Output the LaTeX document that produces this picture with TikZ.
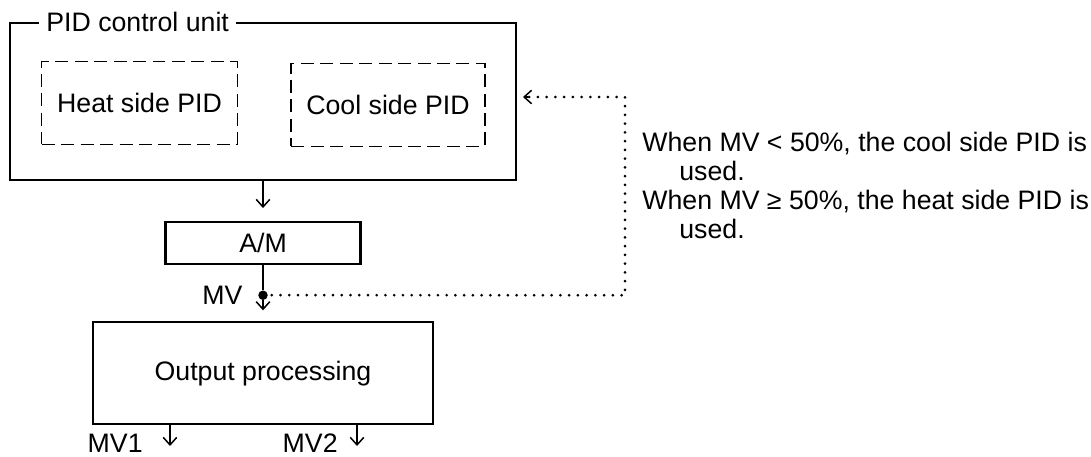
\documentclass[tikz,border=0pt]{standalone}
\usepackage{fontspec}
\setmainfont{Liberation Sans}
\usepackage{tikz}
\usetikzlibrary{arrows.meta, positioning, calc}

\tikzset{
  unitbox/.style={
    rectangle, draw, line width=1.2pt,
    minimum width=10.12cm, minimum height=3.14cm
  },
  sidebox/.style={
    rectangle, draw, line width=0.8pt,
    dash pattern=on 0.26cm off 0.13cm,
    minimum width=3.92cm, minimum height=1.66cm
  },
  blockbox/.style={
    rectangle, draw, line width=1.2pt
  },
  tapdot/.style={circle, fill, inner sep=0pt, minimum size=0.19cm},
  plainlabel/.style={inner sep=0pt},
  sigarrow/.style={-{Straight Barb[length=0.15cm, width=0.27cm]}, line width=0.85pt},
  fbline/.style={line width=1.7pt, dash pattern=on 0pt off 0.175cm, line cap=round}
}

\begin{document}
\begin{tikzpicture}[x=0.02cm, y=-0.02cm,
                    every node/.style={font=\fontsize{15.2}{16.4}\selectfont}]
  \useasboundingbox (0,0) rectangle (1091,456);

  % control unit with both PIDs
  \node[unitbox] (pidunit) at (263,101.5) {};
  \node[fill=white, inner xsep=0.14cm, inner ysep=1pt, anchor=west]
    (unittitle) at ([xshift=0.6cm]pidunit.north west) {PID control unit};
  \node[sidebox] (heatpid) at (139.5,103) {Heat side PID};
  \node[sidebox, minimum width=3.88cm] (coolpid) at (388,105) {Cool side PID};

  \node[blockbox, minimum width=3.9cm, minimum height=0.84cm,
        below=0.8cm of pidunit] (am) {A/M};
  \node[tapdot, below=0.5cm of am] (mv) {};
  \node[plainlabel, left=0.3cm of mv] (mvlabel) {MV};
  \node[blockbox, minimum width=6.8cm, minimum height=2.04cm,
        below=0.42cm of mv] (outproc) {Output processing};

  \draw[sigarrow, shorten >=0.26cm] (pidunit) -- (am);
  \draw[line width=0.85pt] (am) -- (mv);
  \draw[sigarrow, shorten >=0.22cm] (mv) -- (outproc);

  % outputs
  \node[plainlabel, anchor=base east] (mvone) at (143,452) {MV1};
  \node[plainlabel, anchor=base east] (mvtwo) at (338,452) {MV2};
  \coordinate (mvonetip) at (170,446);
  \coordinate (mvtwotip) at (357,446);
  \foreach \tip in {mvonetip, mvtwotip}{
    \draw[sigarrow] (outproc.south -| \tip) -- (\tip);
  }

  % feedback of MV to the PID unit
  \coordinate (fbcorner) at (625,97);
  \coordinate (fbend) at (523,97);
  \draw[fbline] (mv.center) -| (fbcorner) -- ([xshift=0.1cm]fbend);
  \draw[sigarrow] ([xshift=0.1cm]fbend) -- (fbend);

  \node[plainlabel, anchor=north west, align=left] (note) at (642,132) {%
    When MV < 50\%, the cool side PID is\\
    \hspace*{0.74cm}used.\\
    When MV ≥ 50\%, the heat side PID is\\
    \hspace*{0.74cm}used.};

\end{tikzpicture}
\end{document}
